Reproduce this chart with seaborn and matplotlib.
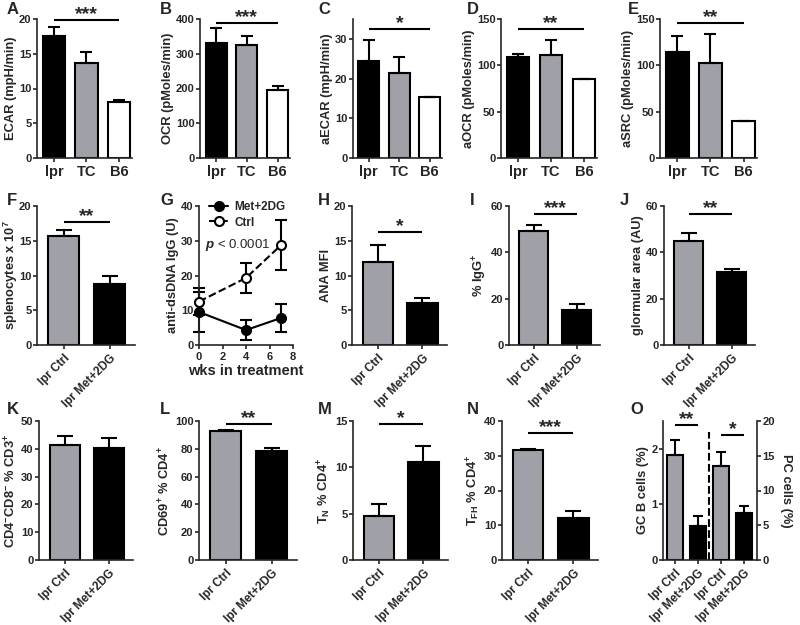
import numpy as np
import matplotlib
matplotlib.use("Agg")
import matplotlib.pyplot as plt
import seaborn as sns


# ── Style ─────────────────────────────────────────────────────────────────────
sns.set_theme(style="ticks")
plt.rcParams["font.family"] = ["Liberation Sans", "DejaVu Sans"]
plt.rcParams.update({
    "font.weight": "bold",
    "axes.labelweight": "bold",
    "axes.linewidth": 1.2,
    "xtick.major.width": 1.2,
    "ytick.major.width": 1.2,
    "xtick.major.size": 3,
    "ytick.major.size": 3,
    "xtick.major.pad": 2,
    "ytick.major.pad": 1,
    "xtick.labelsize": 8,
    "ytick.labelsize": 8,
    "axes.labelsize": 9.3,
    "axes.labelpad": 1.5,
    "mathtext.fontset": "custom",
    "mathtext.default": "regular",
    "mathtext.rm": "Liberation Sans:bold",
    "mathtext.it": "Liberation Sans:italic",
})

GRAY = "#a0a0a8"

# ── Data ──────────────────────────────────────────────────────────────────────
strains = ["lpr", "TC", "B6"]
strain_colors = ["black", GRAY, "white"]

ecar = [17.6, 13.7, 8.0]
ecar_err = [1.2, 1.5, 0.3]
ocr = [330, 325, 197]
ocr_err = [45, 25, 10]
aecar = [24.5, 21.5, 15.3]
aecar_err = [5.3, 4.0, 0]
aocr = [108.5, 111, 85.5]
aocr_err = [3.5, 16, 0]
asrc = [114, 103, 40]
asrc_err = [18, 31, 0]

treat = ["lpr Ctrl", "lpr Met+2DG"]
treat_colors = [GRAY, "black"]

spleno = [15.7, 8.8]
spleno_err = [0.9, 1.2]
ana = [12.0, 6.0]
ana_err = [2.4, 0.7]
igg = [49.0, 15.3]
igg_err = [3.0, 2.5]
glom = [44.7, 31.3]
glom_err = [3.5, 1.5]
dn = [41.2, 40.3]
dn_err = [3.5, 3.5]
cd69 = [92.5, 78.3]
cd69_err = [1.3, 2.3]
tn = [4.7, 10.6]
tn_err = [1.3, 1.7]
tfh = [31.7, 12.2]
tfh_err = [0.3, 1.8]
gcb = [1.88, 0.62]
gcb_err = [0.28, 0.17]
pc = [13.5, 6.7]
pc_err = [2.0, 1.1]

weeks = [0, 4, 7]
met_ds = [9.5, 4.3, 7.8]
met_ds_err = [5.7, 2.9, 4.0]
ctrl_ds = [12.5, 19.3, 28.8]
ctrl_ds_err = [4.0, 4.3, 7.3]


fig = plt.figure(figsize=(8, 6.25), dpi=100)
W, H = 800, 625


def px_rect(left, right, top, bottom):
    return [left / W, 1 - bottom / H, (right - left) / W, (bottom - top) / H]


def letter(x, y, s):
    fig.text(x / W, 1 - y / H, s, fontsize=12, fontweight="bold", va="center", ha="left")


def sig(ax, x0, x1, y, stars):
    ax.plot([x0, x1], [y, y], color="black", lw=1.5, clip_on=False, solid_capstyle="butt")
    ax.annotate(stars, ((x0 + x1) / 2, y), xytext=(0, 0.5), textcoords="offset points",
                ha="center", va="baseline", fontsize=14, fontweight="bold",
                annotation_clip=False)


def bar_panel(rect, cats, vals, errs, colors, ylim, yticks, ylabel, xlim, capsize, rotate=False):
    ax = fig.add_axes(px_rect(*rect))
    sns.barplot(x=cats, y=vals, hue=cats, palette=colors, legend=False, width=0.68,
                edgecolor="black", linewidth=1.5, saturation=1, ax=ax)
    ax.errorbar(range(len(cats)), vals, yerr=[np.zeros(len(vals)), errs], fmt="none",
                ecolor="black", elinewidth=1.5, capsize=capsize, capthick=1.5, zorder=1)
    ax.set_ylim(*ylim)
    ax.set_yticks(yticks)
    ax.set_xlim(*xlim)
    ax.set_ylabel(ylabel)
    if rotate:
        ax.set_xticks(range(len(cats)))
        ax.set_xticklabels(cats, rotation=45, ha="right", rotation_mode="anchor", fontsize=8.5)
    else:
        ax.tick_params(axis="x", labelsize=10.5)
    sns.despine(ax=ax)
    return ax


# ── Row 1: metabolic measurements ─────────────────────────────────────────────
x3 = (-0.52, 2.4)
ax = bar_panel((37, 132, 19, 158), strains, ecar, ecar_err, strain_colors,
               (0, 20), [0, 5, 10, 15, 20], "ECAR (mpH/min)", x3, 4.5)
sig(ax, 0, 2, 19.9, "***")
ax = bar_panel((200, 290, 19, 158), strains, ocr, ocr_err, strain_colors,
               (0, 400), [0, 100, 200, 300, 400], "OCR (pMoles/min)", x3, 4.5)
sig(ax, 0, 2, 389, "***")
ax = bar_panel((353, 442, 19, 158), strains, aecar, aecar_err, strain_colors,
               (0, 35), [0, 10, 20, 30], "aECAR (mpH/min)", x3, 4.5)
sig(ax, 0, 2, 32.5, "*")
ax = bar_panel((501, 597, 19, 158), strains, aocr, aocr_err, strain_colors,
               (0, 150), [0, 50, 100, 150], "aOCR (pMoles/min)", x3, 4.5)
sig(ax, 0, 2, 139, "**")
ax = bar_panel((660, 757, 19, 158), strains, asrc, asrc_err, strain_colors,
               (0, 150), [0, 50, 100, 150], "aSRC (pMoles/min)", x3, 4.5)
sig(ax, 0, 2, 146, "**")

# ── Row 2: autoimmunity ───────────────────────────────────────────────────────
x2 = (-0.58, 1.55)
ax = bar_panel((37, 135, 206, 345), treat, spleno, spleno_err, treat_colors,
               (0, 20), [0, 5, 10, 15, 20], "splenocytes x 10$^{7}$", x2, 6, rotate=True)
ax.yaxis.set_label_coords(-0.17, 0.5)
sig(ax, 0, 1, 17.7, "**")

ax = fig.add_axes(px_rect(199, 293, 206, 345))
ax.errorbar(weeks, met_ds, yerr=met_ds_err, fmt="none", ecolor="black",
            elinewidth=1.5, capsize=4, capthick=1.5, zorder=2, clip_on=False)
ax.errorbar(weeks, ctrl_ds, yerr=ctrl_ds_err, fmt="none", ecolor="black",
            elinewidth=1.5, capsize=4, capthick=1.5, zorder=2, clip_on=False)
sns.lineplot(x=weeks, y=met_ds, color="black", lw=1.5, marker="o", markersize=6.5,
             markeredgecolor="black", markeredgewidth=1.5, label="Met+2DG",
             clip_on=False, zorder=3, ax=ax)
sns.lineplot(x=weeks, y=ctrl_ds, color="black", lw=1.5, ls="--", marker="o", markersize=6.5,
             markerfacecolor="white", markeredgecolor="black", markeredgewidth=1.5,
             label="Ctrl", clip_on=False, zorder=3, ax=ax)
ax.set_xlim(0, 8)
ax.set_ylim(0, 40)
ax.set_xticks([0, 2, 4, 6, 8])
ax.set_yticks([0, 10, 20, 30, 40])
ax.set_xlabel("wks in treatment", fontsize=10.5)
ax.set_ylabel("anti-dsDNA IgG (U)")
ax.text(0.5, 28.8, r"$\mathit{p}$ < 0.0001", fontsize=9.5, fontweight="normal", va="center")
ax.legend(loc="upper left", bbox_to_anchor=(0.06, 1.07), frameon=False, fontsize=8.5,
          handlelength=1.6, handletextpad=0.5, labelspacing=0.3, borderaxespad=0)
sns.despine(ax=ax)

ax = bar_panel((352, 447, 206, 345), treat, ana, ana_err, treat_colors,
               (0, 20), [0, 5, 10, 15, 20], "ANA MFI", x2, 6, rotate=True)
sig(ax, 0, 1, 16.3, "*")
ax = bar_panel((509, 600, 206, 345), treat, igg, igg_err, treat_colors,
               (0, 60), [0, 20, 40, 60], "% IgG$^{+}$", x2, 6, rotate=True)
sig(ax, 0, 1, 56.5, "***")
ax = bar_panel((664, 755, 206, 345), treat, glom, glom_err, treat_colors,
               (0, 60), [0, 20, 40, 60], "glormular area (AU)", x2, 6, rotate=True)
sig(ax, 0, 1, 56.5, "**")

# ── Row 3: T and B cell subsets ───────────────────────────────────────────────
bar_panel((39, 133, 421, 560), treat, dn, dn_err, treat_colors,
          (0, 50), [0, 10, 20, 30, 40, 50], "CD4$^{-}$CD8$^{-}$ % CD3$^{+}$", x2, 6, rotate=True)
ax = bar_panel((199, 297, 421, 560), treat, cd69, cd69_err, treat_colors,
               (0, 100), [0, 20, 40, 60, 80, 100], "CD69$^{+}$ % CD4$^{+}$", x2, 6, rotate=True)
sig(ax, 0, 1, 97.8, "**")
ax = bar_panel((353, 448, 421, 560), treat, tn, tn_err, treat_colors,
               (0, 15), [0, 5, 10, 15], "T$_{N}$ % CD4$^{+}$", x2, 6, rotate=True)
sig(ax, 0, 1, 14.7, "*")
ax = bar_panel((502, 598, 421, 560), treat, tfh, tfh_err, treat_colors,
               (0, 40), [0, 10, 20, 30, 40], "T$_{FH}$ % CD4$^{+}$", x2, 6, rotate=True)
sig(ax, 0, 1, 36.5, "***")

# O: GC B cells (left axis) and PC cells (right axis)
ax = fig.add_axes(px_rect(663, 757, 421, 560))
ax2 = ax.twinx()
sns.barplot(x=[0, 1], y=gcb, hue=treat, palette=treat_colors, legend=False, native_scale=True,
            width=0.7, edgecolor="black", linewidth=1.5, saturation=1, ax=ax)
ax.errorbar([0, 1], gcb, yerr=[np.zeros(2), gcb_err], fmt="none", ecolor="black",
            elinewidth=1.5, capsize=3.5, capthick=1.5, zorder=1)
sns.barplot(x=[2, 3], y=pc, hue=treat, palette=treat_colors, legend=False, native_scale=True,
            width=0.7, edgecolor="black", linewidth=1.5, saturation=1, ax=ax2)
ax2.errorbar([2, 3], pc, yerr=[np.zeros(2), pc_err], fmt="none", ecolor="black",
             elinewidth=1.5, capsize=3.5, capthick=1.5, zorder=1)
for a in (ax, ax2):
    a.set_xlim(-0.52, 3.57)
ax.set_ylim(0, 2.5)
ax.set_yticks([0, 1, 2])
ax2.set_ylim(0, 20)
ax2.set_yticks([0, 5, 10, 15, 20])
ax.set_xticks([0, 1, 2, 3])
ax.set_xticklabels(treat + treat, rotation=45, ha="right", rotation_mode="anchor", fontsize=8.5)
ax.set_ylabel("GC B cells (%)")
ax2.set_ylabel("PC cells (%)", rotation=270, labelpad=12)
ax.axvline(1.5, ymin=0, ymax=0.92, color="black", ls="--", lw=1.5)
sns.despine(ax=ax)
for s in ("top", "left", "bottom"):
    ax2.spines[s].set_visible(False)
ax2.spines["right"].set_linewidth(1.2)
ax2.tick_params(axis="y", labelsize=8, width=1.2, length=3, pad=1)
sig(ax, 0, 1, 2.43, "**")
sig(ax2, 2, 3, 18.0, "*")

# ── Panel letters ─────────────────────────────────────────────────────────────
for x, s in zip([7, 160, 318, 467, 628], "ABCDE"):
    letter(x, 9, s)
for x, s in zip([7, 160, 318, 470, 620], "FGHIJ"):
    letter(x, 200, s)
for x, s in zip([7, 160, 318, 467, 630], "KLMNO"):
    letter(x, 410, s)

fig.savefig("out.png", dpi=100)
